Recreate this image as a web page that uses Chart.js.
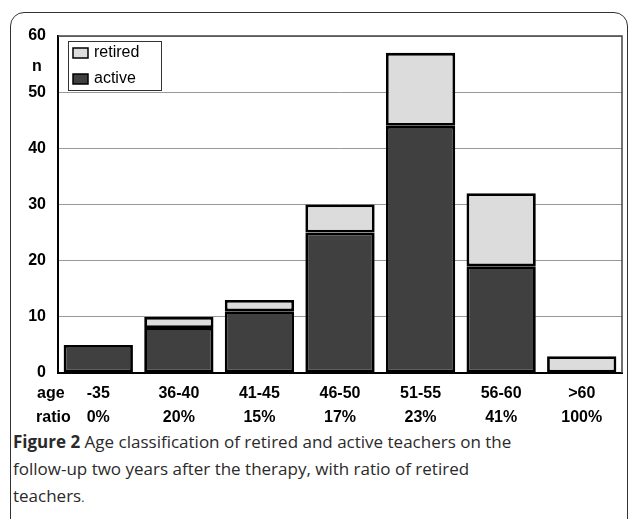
<!DOCTYPE html>
<html>
<head>
<meta charset="utf-8">
<script src="https://cdn.jsdelivr.net/npm/chart.js@4"></script>
<style>
  body { margin: 0; background: #fff; width: 630px; height: 519px; overflow: hidden; position: relative; }
  #frame { position: absolute; left: 10px; top: 12px; width: 616px; height: 530px;
           border: 1.5px solid #333; border-radius: 14px; }
  #wrap { position: absolute; left: 0; top: 0; width: 630px; height: 428px; }
  #caption { position: absolute; left: 13px; top: 428px; font-family: "Open Sans", sans-serif;
             font-size: 17px; line-height: 27px; color: #2a2a2a; }
</style>
</head>
<body>
<div id="frame"></div>
<div id="wrap"><canvas id="barChart"></canvas></div>
<div id="caption"><b>Figure 2</b> Age classification of retired and active teachers on the<br>follow-up two years after the therapy, with ratio of retired<br>teachers<span style="font-size:12px">.</span></div>
<script>
const ageGroups = ['-35', '36-40', '41-45', '46-50', '51-55', '56-60', '>60'];
const ratios = ['0%', '20%', '15%', '17%', '23%', '41%', '100%'];
const active = [5, 8, 11, 25, 44, 19, 0];
const retired = [0, 2, 2, 5, 13, 13, 3];

const tickFont = { family: '"Liberation Sans", Arial, sans-serif', size: 16, weight: 'bold', lineHeight: 1.5 };

const extras = {
    id: 'extras',
    afterDraw(chart) {
        const ctx = chart.ctx;
        const a = chart.chartArea;
        ctx.save();
        // plot frame top/right
        ctx.strokeStyle = '#444';
        ctx.lineWidth = 1.5;
        ctx.beginPath();
        ctx.moveTo(a.left, a.top);
        ctx.lineTo(a.right, a.top);
        ctx.lineTo(a.right, a.bottom);
        ctx.stroke();
        // row labels under the axis
        ctx.fillStyle = '#000';
        ctx.font = 'bold 16px "Liberation Sans", Arial, sans-serif';
        ctx.textBaseline = 'middle';
        ctx.textAlign = 'left';
        ctx.fillText('age', 37, 394);
        ctx.fillText('ratio', 36, 418);
        ctx.textAlign = 'center';
        ctx.fillText('n', 37, 67);
        // legend inside plot
        const lx = 68, ly = 41;
        ctx.fillStyle = '#fff';
        ctx.fillRect(lx, ly, 93, 49);
        ctx.strokeStyle = '#333';
        ctx.lineWidth = 1;
        ctx.strokeRect(lx + 0.5, ly + 0.5, 93, 49);
        const items = [chart.data.datasets[1], chart.data.datasets[0]];
        ctx.font = '16px "Liberation Sans", Arial, sans-serif';
        ctx.textAlign = 'left';
        items.forEach((ds, i) => {
            const y = ly + 12 + i * 26;
            ctx.fillStyle = ds.backgroundColor;
            ctx.fillRect(lx + 5, y - 5, 15, 10);
            ctx.strokeStyle = '#000';
            ctx.lineWidth = 1.5;
            ctx.strokeRect(lx + 5, y - 5, 15, 10);
            ctx.fillStyle = '#000';
            ctx.fillText(ds.label, lx + 26, y);
        });
        ctx.restore();
    }
};

new Chart(document.getElementById('barChart'), {
    type: 'bar',
    data: {
        labels: ageGroups.map((g, i) => [g, ratios[i]]),
        datasets: [
            { label: 'active', data: active, backgroundColor: '#404040', borderColor: '#000', borderWidth: 2.8, borderSkipped: false },
            { label: 'retired', data: retired, backgroundColor: '#dcdcdc', borderColor: '#000', borderWidth: 2.8, borderSkipped: false }
        ]
    },
    options: {
        responsive: true,
        maintainAspectRatio: false,
        animation: false,
        layout: { padding: { top: 36, right: 8, left: 0, bottom: 0 } },
        plugins: { legend: { display: false }, tooltip: { enabled: false } },
        datasets: { bar: { categoryPercentage: 1, barPercentage: 0.86 } },
        scales: {
            x: {
                stacked: true,
                grid: { display: false, drawTicks: false },
                border: { color: '#000', width: 2 },
                ticks: { color: '#000', font: tickFont, padding: 9, maxRotation: 0 },
                afterFit(s) { s.height = 55; }
            },
            y: {
                stacked: true,
                min: 0, max: 60,
                grid: { color: '#999', lineWidth: 1, drawTicks: false },
                border: { color: '#000', width: 2 },
                ticks: { stepSize: 10, color: '#000', font: tickFont, padding: 12 },
                afterFit(s) { s.width = 58; }
            }
        }
    },
    plugins: [extras]
});
</script>
</body>
</html>
